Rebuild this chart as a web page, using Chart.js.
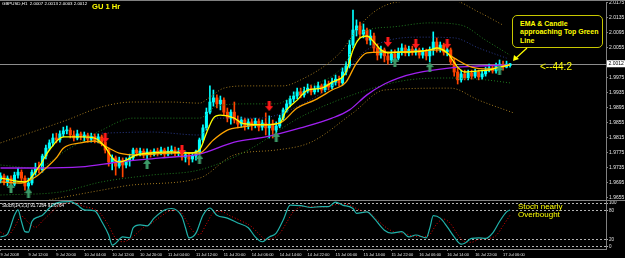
<!DOCTYPE html>
<html><head><meta charset="utf-8">
<script src="https://cdn.jsdelivr.net/npm/chart.js@4/dist/chart.umd.min.js"></script>
<style>
html,body{margin:0;padding:0;background:#000;width:625px;height:258px;overflow:hidden;}
#wrap{position:relative;width:625px;height:258px;background:#000;}
canvas{position:absolute;left:0;}
.t{position:absolute;white-space:nowrap;font-family:"Liberation Sans",Arial,sans-serif;line-height:1;}
.hl{position:absolute;left:0;width:625px;height:1px;background:#808080;}
</style></head><body>
<div id="wrap">
<canvas id="main" width="625" height="200" style="top:0"></canvas>
<canvas id="stoch" width="625" height="57" style="top:201px"></canvas>
<div class="hl" style="top:0"></div>
<div class="hl" style="top:200px"></div>
<div class="t" style="left:2px;top:2px;font-size:4.4px;color:#fff">GBPUSD,H1&nbsp;&nbsp;2.0007 2.0013 2.0003 2.0012</div>
<div class="t" style="left:92px;top:3px;font-size:7.6px;font-weight:bold;color:#ffff00">GU 1 Hr</div>
<div style="position:absolute;left:512px;top:15px;width:89px;height:31px;border:1px solid #c8c800;border-radius:5px;background:#000"></div>
<div class="t" style="left:520px;top:20px;font-size:7px;font-weight:bold;color:#ffff00;line-height:8.3px">EMA &amp; Candle<br>approaching Top Green<br>Line</div>
<svg style="position:absolute;left:0;top:0" width="625" height="258"><line x1="527" y1="48" x2="515" y2="59" stroke="#ffff00" stroke-width="1.2"/><polygon points="513,61 514,55 519,59" fill="#ffff00"/></svg>
<div class="t" style="left:540px;top:62px;font-size:10px;color:#ffff00">&lt;--44:2</div>
<div class="t" style="left:518px;top:203px;font-size:8px;color:#ffff00;line-height:8.3px">Stoch nearly<br>Overbought</div>
<div class="t" style="left:2px;top:204px;font-size:4.5px;color:#fff">Stoch(14,3,3) 91.7264 91.6764</div>
</div>
<script>
// ---------- DATA ----------
const opens = [1.9702,1.9713,1.9697,1.9707,1.9691,1.9715,1.9723,1.9707,1.9686,1.9694,
1.9723,1.9734,1.9729,1.9766,1.9787,1.9801,1.9814,1.9809,1.9825,1.9833,
1.9835,1.9822,1.9814,1.9825,1.9817,1.9822,1.9811,1.9819,1.9809,1.9817,
1.9803,1.9782,1.9750,1.9761,1.9739,1.9755,1.9742,1.9753,1.9761,1.9782,
1.9774,1.9779,1.9769,1.9777,1.9771,1.9779,1.9774,1.9782,1.9771,1.9779,
1.9782,1.9774,1.9777,1.9763,1.9769,1.9758,1.9766,1.9777,1.9809,1.9841,
1.9883,1.9910,1.9921,1.9905,1.9915,1.9883,1.9867,1.9883,1.9862,1.9851,
1.9862,1.9846,1.9857,1.9849,1.9859,1.9843,1.9854,1.9841,1.9851,1.9835,
1.9846,1.9867,1.9889,1.9905,1.9918,1.9926,1.9937,1.9929,1.9939,1.9947,
1.9937,1.9945,1.9953,1.9942,1.9958,1.9950,1.9963,1.9971,1.9961,1.9990,
2.0006,2.0062,2.0102,2.0113,2.0091,2.0102,2.0075,2.0086,2.0054,2.0035,
2.0049,2.0033,2.0022,2.0038,2.0027,2.0043,2.0054,2.0041,2.0051,2.0043,
2.0049,2.0035,2.0046,2.0033,2.0049,2.0070,2.0054,2.0062,2.0043,2.0049,
2.0017,1.9990,1.9969,1.9985,1.9974,1.9987,1.9979,1.9990,1.9977,1.9985,
1.9995,2.0001,1.9993,2.0006,2.0011,2.0003,2.0007];
const highs = [1.9721,1.9718,1.9713,1.9713,1.9723,1.9734,1.9729,1.9713,1.9707,1.9729,
1.9747,1.9750,1.9771,1.9795,1.9809,1.9825,1.9827,1.9833,1.9843,1.9846,
1.9841,1.9833,1.9835,1.9830,1.9830,1.9827,1.9827,1.9825,1.9825,1.9822,
1.9809,1.9787,1.9769,1.9766,1.9763,1.9761,1.9761,1.9771,1.9787,1.9787,
1.9787,1.9785,1.9785,1.9782,1.9785,1.9787,1.9790,1.9787,1.9790,1.9793,
1.9790,1.9787,1.9785,1.9777,1.9774,1.9774,1.9782,1.9814,1.9849,1.9894,
1.9953,1.9942,1.9929,1.9926,1.9921,1.9894,1.9889,1.9910,1.9873,1.9870,
1.9867,1.9865,1.9865,1.9867,1.9865,1.9862,1.9881,1.9873,1.9862,1.9857,
1.9875,1.9894,1.9915,1.9926,1.9937,1.9947,1.9947,1.9950,1.9958,1.9955,
1.9953,1.9963,1.9958,1.9969,1.9966,1.9974,1.9982,1.9979,2.0001,2.0017,
2.0075,2.0155,2.0129,2.0123,2.0118,2.0107,2.0102,2.0094,2.0065,2.0059,
2.0054,2.0043,2.0049,2.0049,2.0054,2.0065,2.0062,2.0059,2.0059,2.0057,
2.0054,2.0054,2.0051,2.0057,2.0097,2.0081,2.0070,2.0067,2.0059,2.0054,
2.0027,2.0001,1.9995,1.9995,1.9995,1.9995,1.9998,1.9995,1.9995,2.0003,
2.0011,2.0009,2.0014,2.0022,2.0019,2.0019,2.0013];
const lows = [1.9694,1.9689,1.9686,1.9681,1.9686,1.9707,1.9699,1.9675,1.9670,1.9689,
1.9715,1.9721,1.9723,1.9758,1.9782,1.9793,1.9801,1.9803,1.9817,1.9825,
1.9814,1.9806,1.9809,1.9809,1.9806,1.9803,1.9803,1.9801,1.9801,1.9793,
1.9774,1.9739,1.9729,1.9715,1.9734,1.9710,1.9734,1.9739,1.9755,1.9766,
1.9766,1.9761,1.9758,1.9763,1.9766,1.9766,1.9769,1.9763,1.9766,1.9771,
1.9766,1.9766,1.9755,1.9750,1.9742,1.9750,1.9755,1.9769,1.9803,1.9835,
1.9878,1.9899,1.9894,1.9889,1.9875,1.9857,1.9851,1.9854,1.9841,1.9843,
1.9835,1.9838,1.9835,1.9841,1.9833,1.9835,1.9822,1.9814,1.9814,1.9819,
1.9841,1.9862,1.9883,1.9897,1.9910,1.9918,1.9921,1.9923,1.9934,1.9929,
1.9931,1.9937,1.9934,1.9937,1.9942,1.9945,1.9955,1.9953,1.9955,1.9982,
2.0001,2.0054,2.0086,2.0081,2.0081,2.0065,2.0062,2.0043,2.0022,2.0027,
2.0017,2.0011,2.0014,2.0006,2.0022,2.0035,2.0033,2.0033,2.0035,2.0035,
2.0027,2.0027,2.0022,2.0017,2.0035,2.0043,2.0043,2.0035,2.0033,2.0009,
1.9979,1.9958,1.9963,1.9969,1.9969,1.9971,1.9974,1.9969,1.9971,1.9979,
1.9990,1.9987,1.9987,1.9995,1.9995,2.0001,2.0003];
const closes = [1.9713,1.9697,1.9707,1.9691,1.9715,1.9723,1.9707,1.9686,1.9694,1.9723,
1.9734,1.9729,1.9766,1.9787,1.9801,1.9814,1.9809,1.9825,1.9833,1.9835,
1.9822,1.9814,1.9825,1.9817,1.9822,1.9811,1.9819,1.9809,1.9817,1.9803,
1.9782,1.9750,1.9761,1.9739,1.9755,1.9742,1.9753,1.9761,1.9782,1.9774,
1.9779,1.9769,1.9777,1.9771,1.9779,1.9774,1.9782,1.9771,1.9779,1.9782,
1.9774,1.9777,1.9763,1.9769,1.9758,1.9766,1.9777,1.9809,1.9841,1.9883,
1.9910,1.9921,1.9905,1.9915,1.9883,1.9867,1.9883,1.9862,1.9851,1.9862,
1.9846,1.9857,1.9849,1.9859,1.9843,1.9854,1.9841,1.9851,1.9835,1.9846,
1.9867,1.9889,1.9905,1.9918,1.9926,1.9937,1.9929,1.9939,1.9947,1.9937,
1.9945,1.9953,1.9942,1.9958,1.9950,1.9963,1.9971,1.9961,1.9990,2.0006,
2.0062,2.0102,2.0113,2.0091,2.0102,2.0075,2.0086,2.0054,2.0035,2.0049,
2.0033,2.0022,2.0038,2.0027,2.0043,2.0054,2.0041,2.0051,2.0043,2.0049,
2.0035,2.0046,2.0033,2.0049,2.0070,2.0054,2.0062,2.0043,2.0049,2.0017,
1.9990,1.9969,1.9985,1.9974,1.9987,1.9979,1.9990,1.9977,1.9985,1.9995,
2.0001,1.9993,2.0006,2.0011,2.0003,2.0011,2.0012];

// indicator lines: [barIndex, price]
const emaFast = [[0,1.9707],[7,1.9697],[11,1.9737],[14,1.9782],[18,1.9817],[23,1.9817],[27,1.9814],[30,1.9790],[32,1.9761],[34,1.9750],[36,1.9755],[39,1.9769],[43,1.9774],[49,1.9777],[54,1.9774],[57,1.9782],[59,1.9827],[61,1.9867],[63,1.9875],[67,1.9867],[69,1.9854],[71,1.9851],[76,1.9849],[80,1.9854],[82,1.9889],[85,1.9915],[88,1.9942],[92,1.9947],[95,1.9963],[99,1.9990],[101,2.0049],[103,2.0081],[105,2.0086],[107,2.0070],[109,2.0049],[111,2.0041],[114,2.0043],[117,2.0043],[123,2.0049],[125,2.0054],[128,2.0041],[131,2.0003],[133,1.9990],[137,1.9993],[140,1.9995],[143,2.0003],[146,2.0009]];
const emaSlow = [[0,1.9697],[6,1.9694],[10,1.9710],[13,1.9734],[16,1.9761],[18,1.9787],[23,1.9801],[27,1.9806],[28,1.9803],[31,1.9787],[34,1.9774],[40,1.9769],[49,1.9774],[57,1.9774],[61,1.9809],[65,1.9835],[69,1.9843],[74,1.9849],[80,1.9854],[85,1.9894],[90,1.9915],[95,1.9942],[99,1.9963],[102,2.0014],[105,2.0041],[109,2.0043],[114,2.0043],[126,2.0049],[130,2.0027],[135,2.0003],[140,1.9998],[146,2.0009]];
const maLong = [[0,1.9734],[11,1.9734],[23,1.9737],[34,1.9750],[46,1.9761],[57,1.9771],[67,1.9803],[76,1.9817],[86,1.9841],[95,1.9867],[100,1.9889],[105,1.9929],[110,1.9958],[114,1.9974],[119,1.9987],[129,2.0001],[137,2.0006],[146,2.0009]];
const bandOuterUp = [[0,1.9801],[19,1.9862],[29,1.9897],[38,1.9910],[49,1.9910],[57,1.9907],[60,1.9923],[64,1.9947],[71,1.9953],[81,1.9953],[86,1.9969],[94,2.0014],[98,2.0049],[102,2.0102],[107,2.0150],[114,2.0177],[129,2.0182],[137,2.0150],[144,2.0115]];
const bandMidUp = [[0,1.9742],[10,1.9734],[19,1.9782],[29,1.9835],[38,1.9867],[49,1.9867],[57,1.9867],[62,1.9899],[71,1.9905],[79,1.9905],[86,1.9942],[98,2.0003],[104,2.0097],[112,2.0110],[123,2.0121],[132,2.0115],[139,2.0075],[146,2.0035]];
const bandInnerUp = [[29,1.9827],[43,1.9830],[57,1.9822],[62,1.9867],[74,1.9867],[86,1.9902],[97,1.9969],[105,2.0049],[120,2.0083],[130,2.0081],[137,2.0054],[145,2.0027]];
const bandMidDn = [[0,1.9662],[17,1.9670],[29,1.9697],[43,1.9715],[57,1.9729],[71,1.9782],[86,1.9870],[105,1.9942],[117,1.9969],[129,1.9974],[139,1.9969],[146,1.9961]];
const bandOuterDn = [[14,1.9649],[29,1.9675],[38,1.9689],[57,1.9707],[67,1.9769],[79,1.9782],[89,1.9803],[101,1.9881],[110,1.9942],[129,1.9947],[137,1.9915],[147,1.9881]];
const sellArrows = [[30,1.9814],[52,1.9782],[77,1.9899],[111,2.0070],[119,2.0065],[128,2.0065]];
const buyArrows = [[3,1.9681],[8,1.9667],[42,1.9745],[57,1.9758],[79,1.9817],[113,2.0017],[123,2.0003],[143,1.9995]];
const currentPrice = 2.0012;
const priceTicks = [2.0175,2.0135,2.0095,2.0055,2.0015,1.9975,1.9935,1.9895,1.9855,1.9815,1.9775,1.9735,1.9695,1.9655];

// stochastic [barIndex, value]
const stochMain = [[0,25],[2,31],[4,70],[5,81],[6,57],[7,36],[8,35],[9,57],[11,67],[12,70],[14,85],[16,95],[20,98],[22,91],[24,81],[27,79],[29,57],[31,29],[32,8],[33,12],[35,25],[37,23],[38,44],[40,50],[42,48],[44,64],[47,81],[49,84],[52,67],[53,44],[54,23],[56,33],[58,70],[60,85],[62,70],[65,64],[68,54],[71,44],[73,25],[75,15],[77,25],[79,33],[81,60],[83,91],[86,90],[89,86],[92,88],[94,88],[96,97],[98,91],[101,84],[102,74],[105,77],[107,64],[110,39],[112,33],[115,36],[117,25],[119,29],[122,23],[123,43],[124,69],[126,64],[128,46],[130,25],[132,10],[133,12],[135,22],[137,23],[139,22],[141,33],[143,57],[145,77],[146,81]];
const stochSignal = [[0,35],[2,28],[4,45],[6,68],[8,55],[10,45],[12,58],[14,72],[16,86],[18,94],[21,96],[24,88],[27,82],[29,70],[31,48],[33,22],[35,15],[37,20],[39,32],[41,45],[43,52],[46,68],[49,80],[51,80],[53,62],[55,38],[57,30],[59,52],[61,75],[63,78],[66,68],[69,58],[72,46],[74,32],[76,20],[78,22],[80,32],[82,55],[84,78],[87,88],[90,88],[93,87],[96,92],[99,93],[102,84],[104,78],[106,74],[108,60],[111,42],[113,35],[116,32],[118,27],[121,26],[123,30],[125,52],[127,62],[129,52],[131,30],[133,15],[135,14],[137,20],[140,22],[142,28],[144,48],[146,70]];
const stochLevels = [95,80,20,5];
const stochLevelLabels = ['100','80','20','0'];
const timeTickIdx = [0,8,16,24,32,40,48,56,64,72,80,88,96,104,112,120,128,136,144];
const timeLabels = ['9 Jul 2008','9 Jul 12:00','9 Jul 20:00','10 Jul 04:00','10 Jul 12:00','10 Jul 20:00','11 Jul 04:00','11 Jul 12:00','11 Jul 20:00','14 Jul 06:00','14 Jul 14:00','14 Jul 22:00','15 Jul 06:00','15 Jul 14:00','15 Jul 22:00','16 Jul 06:00','16 Jul 14:00','16 Jul 22:00','17 Jul 06:00'];

// ---------- RENDER ----------
const FONT = '"Liberation Sans", Arial, sans-serif';
const X_MIN = -0.15, X_MAX = 173.5;
const BULL = '#00ffff', BEAR = '#ff4500';
const toPts = a => a.map(([x, y]) => ({x, y}));
const candleColors = opens.map((o, i) => closes[i] >= o ? BULL : BEAR);

function makeArrow(color, up) {
  const c = document.createElement('canvas'); c.width = 8; c.height = 10;
  const g = c.getContext('2d'); g.fillStyle = color; g.beginPath();
  if (up) { g.moveTo(4,0); g.lineTo(8,5); g.lineTo(5.5,5); g.lineTo(5.5,10); g.lineTo(2.5,10); g.lineTo(2.5,5); g.lineTo(0,5); }
  else { g.moveTo(2.5,0); g.lineTo(5.5,0); g.lineTo(5.5,5); g.lineTo(8,5); g.lineTo(4,10); g.lineTo(0,5); g.lineTo(2.5,5); }
  g.closePath(); g.fill(); return c;
}
function lineDS(pairs, color, width, dash, order) {
  return {type:'line', data: toPts(pairs), borderColor: color, borderWidth: width, borderDash: dash,
    pointRadius: 0, tension: 0.4, cubicInterpolationMode: 'monotone', fill: false, order};
}

const overlay = {
  id: 'overlay',
  beforeDatasetsDraw(chart) {
    const {ctx, chartArea, scales: {y}} = chart;
    const py = Math.round(y.getPixelForValue(currentPrice)) + 0.5;
    ctx.save(); ctx.strokeStyle = '#8c8c8c'; ctx.lineWidth = 1;
    ctx.beginPath(); ctx.moveTo(0, py); ctx.lineTo(chartArea.right, py); ctx.stroke(); ctx.restore();
  },
  afterDraw(chart) {
    const {ctx, chartArea, scales: {y}} = chart;
    const py = y.getPixelForValue(currentPrice);
    ctx.save(); ctx.fillStyle = '#fff'; ctx.fillRect(chartArea.right + 1, py - 3.5, 18, 7);
    ctx.fillStyle = '#000'; ctx.font = '5px ' + FONT; ctx.textBaseline = 'middle';
    ctx.fillText(currentPrice.toFixed(4), chartArea.right + 2.5, py); ctx.restore();
  }
};

new Chart(document.getElementById('main'), {
  type: 'bar',
  data: { datasets: [
    {type:'scatter', data: toPts(sellArrows), pointStyle: makeArrow('#ff1a1a', false), pointRadius: 5, order: 0},
    {type:'scatter', data: toPts(buyArrows), pointStyle: makeArrow('#3c9a68', true), pointRadius: 5, order: 0},
    lineDS(emaFast, '#ffff00', 1.3, [], 1),
    lineDS(emaSlow, '#ffa500', 1.3, [], 2),
    lineDS(maLong, '#a020f0', 1.3, [], 3),
    lineDS(bandOuterUp, '#a0781e', 1, [1,2], 4),
    lineDS(bandMidUp, '#1f7a1f', 1, [1,2], 4),
    lineDS(bandInnerUp, '#2a3a8c', 1, [1,2], 4),
    lineDS(bandMidDn, '#1f7a1f', 1, [1,2], 4),
    lineDS(bandOuterDn, '#a0781e', 1, [1,2], 4),
    {type:'bar', data: opens.map((o, i) => ({x: i, y: [o, closes[i]]})), backgroundColor: candleColors,
      barThickness: 2.4, minBarLength: 1, grouped: false, borderWidth: 0, order: 10},
    {type:'bar', data: lows.map((l, i) => ({x: i, y: [l, highs[i]]})), backgroundColor: candleColors,
      barThickness: 1, grouped: false, borderWidth: 0, order: 11}
  ]},
  options: {
    responsive: false, animation: false, events: [],
    layout: {padding: {top: 2, left: 0, right: 0, bottom: 0}, autoPadding: false},
    plugins: {legend: {display: false}, tooltip: {enabled: false}},
    scales: {
      x: {type: 'linear', min: X_MIN, max: X_MAX, display: false, offset: false, grid: {offset: false}},
      y: {position: 'right', min: 1.96487, max: 2.01767, beginAtZero: false,
        afterFit(s) { s.width = 19; s.paddingTop = 0; s.paddingBottom = 0; },
        afterBuildTicks(s) { s.ticks = priceTicks.map(v => ({value: v})); },
        ticks: {color: '#e8e8e8', font: {size: 5, family: FONT}, padding: 1, callback: v => v.toFixed(4)},
        grid: {drawOnChartArea: false, drawTicks: true, tickLength: 2, color: '#808080'},
        border: {display: true, color: '#808080'}}
    }
  },
  plugins: [overlay]
});

new Chart(document.getElementById('stoch'), {
  type: 'line',
  data: { datasets: [
    {data: toPts(stochMain), borderColor: '#20b2aa', borderWidth: 1.2, pointRadius: 0, tension: 0.3, cubicInterpolationMode: 'monotone'},
    {data: toPts(stochSignal), borderColor: '#e00000', borderWidth: 1, borderDash: [1,2], pointRadius: 0, tension: 0.3, cubicInterpolationMode: 'monotone'}
  ]},
  options: {
    responsive: false, animation: false, events: [],
    layout: {padding: 0, autoPadding: false},
    plugins: {legend: {display: false}, tooltip: {enabled: false}},
    scales: {
      x: {type: 'linear', min: X_MIN, max: X_MAX, offset: false,
        afterFit(s) { s.height = 9; s.paddingLeft = 0; s.paddingRight = 0; },
        afterBuildTicks(s) { s.ticks = timeTickIdx.map(v => ({value: v})); },
        ticks: {color: '#e0e0e0', font: {size: 4, family: FONT}, align: 'start', autoSkip: false, maxRotation: 0, minRotation: 0, padding: 1,
          callback: (v, i) => timeLabels[i]},
        grid: {drawOnChartArea: false, drawTicks: true, tickLength: 2, color: '#808080'},
        border: {display: true, color: '#808080'}},
      y: {position: 'right', min: 0, max: 99.5,
        afterFit(s) { s.width = 19; s.paddingTop = 0; s.paddingBottom = 0; },
        afterBuildTicks(s) { s.ticks = stochLevels.map(v => ({value: v})); },
        ticks: {color: '#e0e0e0', font: {size: 4.5, family: FONT}, padding: 1, callback: (v, i) => stochLevelLabels[i]},
        grid: {color: '#b4b4b4', lineWidth: 1, drawTicks: true, tickLength: 2},
        border: {display: true, color: '#808080', dash: [2,2]}}
    }
  }
});
</script>
</body></html>
